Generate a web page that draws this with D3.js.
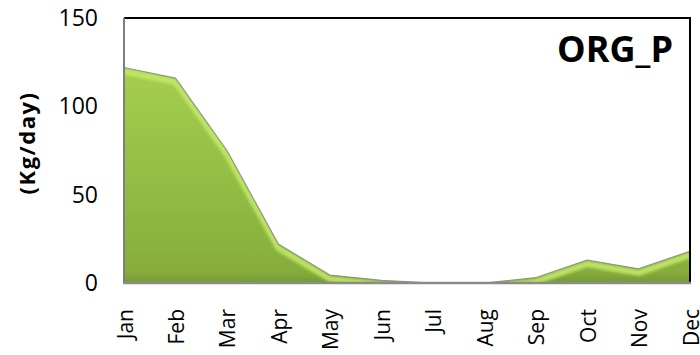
<!DOCTYPE html>
<html>
<head>
<meta charset="utf-8">
<script src="https://cdn.jsdelivr.net/npm/d3@7/dist/d3.min.js"></script>
<style>
  html, body { margin: 0; padding: 0; background: #fff; }
  svg { display: block; }
  text { font-family: "Open Sans", "Liberation Sans", sans-serif; fill: #000; }
</style>
</head>
<body>
<svg id="chart" width="700" height="355"></svg>
<script>
// Monthly organic phosphorus load (kg/day)
const months = ["Jan", "Feb", "Mar", "Apr", "May", "Jun", "Jul", "Aug", "Sep", "Oct", "Nov", "Dec"];
const orgP = [122, 116, 75, 22, 4.5, 1.5, 0, 0, 3, 13, 8, 18];
const yTicks = [0, 50, 100, 150];
const seriesName = "ORG_P";
const yLabel = "(Kg/day)";

const svg = d3.select("#chart");
const plot = { left: 124, right: 690, top: 18, bottom: 283 };

const x = d3.scalePoint().domain(months).range([plot.left, plot.right]);
const y = d3.scaleLinear().domain([0, 150]).range([plot.bottom, plot.top]);

const defs = svg.append("defs");

// vertical shading of the filled area
const grad = defs.append("linearGradient")
  .attr("id", "fillGrad").attr("gradientUnits", "userSpaceOnUse")
  .attr("x1", 0).attr("x2", 0).attr("y1", y(125)).attr("y2", plot.bottom);
grad.append("stop").attr("offset", 0).attr("stop-color", "#a6cf4e");
grad.append("stop").attr("offset", 0.55).attr("stop-color", "#92bd44");
grad.append("stop").attr("offset", 0.95).attr("stop-color", "#86ad3c");
grad.append("stop").attr("offset", 1).attr("stop-color", "#739933");

defs.append("filter").attr("id", "soft")
  .append("feGaussianBlur").attr("stdDeviation", 1.6);

const areaGen = d3.area()
  .x(d => x(d.m)).y0(y(0)).y1(d => y(d.v));
const lineGen = d3.line()
  .x(d => x(d.m)).y(d => y(d.v));

const data = months.map((m, i) => ({ m, v: orgP[i] }));

defs.append("clipPath").attr("id", "areaClip")
  .append("path").attr("d", areaGen(data));

// filled area
svg.append("path")
  .attr("d", areaGen(data))
  .attr("fill", "url(#fillGrad)");

// bevel highlight along the top edge
svg.append("g").attr("clip-path", "url(#areaClip)")
  .append("path")
  .attr("d", lineGen(data))
  .attr("transform", "translate(0,4)")
  .attr("fill", "none")
  .attr("stroke", "#c2e86a")
  .attr("stroke-width", 6)
  .attr("stroke-linejoin", "round")
  .attr("filter", "url(#soft)")
  .attr("opacity", 0.9);

// edge outline
svg.append("path")
  .attr("d", lineGen(data))
  .attr("fill", "none")
  .attr("stroke", "#8c9a78")
  .attr("stroke-width", 1.2)
  .attr("stroke-linejoin", "round");

// plot frame: dark top/right, gray axes left/bottom
svg.append("line")
  .attr("x1", plot.left).attr("x2", plot.right + 1)
  .attr("y1", plot.top).attr("y2", plot.top)
  .attr("stroke", "#000").attr("stroke-width", 2);
svg.append("line")
  .attr("x1", plot.right).attr("x2", plot.right)
  .attr("y1", plot.top).attr("y2", plot.bottom)
  .attr("stroke", "#000").attr("stroke-width", 2);
svg.append("line")
  .attr("x1", plot.left).attr("x2", plot.left)
  .attr("y1", plot.top).attr("y2", plot.bottom + 1)
  .attr("stroke", "#7f7f7f").attr("stroke-width", 2);
svg.append("line")
  .attr("x1", plot.left - 1).attr("x2", plot.right + 1)
  .attr("y1", plot.bottom).attr("y2", plot.bottom)
  .attr("stroke", "#8a8a8a").attr("stroke-width", 2.5);

// y axis tick labels
const yAxis = d3.axisLeft(y).tickValues(yTicks).tickSize(0).tickPadding(26);
const gy = svg.append("g").attr("transform", `translate(${plot.left},0)`).call(yAxis);
gy.select(".domain").remove();
gy.selectAll("text")
  .style("font-family", '"Open Sans", sans-serif')
  .style("font-size", "23px")
  .attr("fill", "#000");

// x axis month labels, rotated
const xAxis = d3.axisBottom(x).tickSize(0).tickPadding(0);
const gx = svg.append("g").attr("transform", `translate(0,${plot.bottom})`).call(xAxis);
gx.select(".domain").remove();
gx.selectAll("text")
  .style("font-family", '"Open Sans", sans-serif')
  .style("font-size", "21px")
  .attr("fill", "#000")
  .attr("text-anchor", "end")
  .attr("dy", null)
  .attr("dominant-baseline", "central")
  .attr("transform", "translate(0,26) rotate(-90)")
  .attr("x", 0).attr("y", 0);

// y axis title
svg.append("text")
  .attr("transform", "translate(26,143) rotate(-90)")
  .attr("text-anchor", "middle")
  .attr("dominant-baseline", "central")
  .style("font-size", "22px")
  .style("font-weight", "bold")
  .style("letter-spacing", "1.5px")
  .text(yLabel);

// series title inside the plot
svg.append("text")
  .attr("x", 673).attr("y", 62)
  .attr("text-anchor", "end")
  .style("font-size", "36px")
  .style("font-weight", "bold")
  .text(seriesName);
</script>
</body>
</html>
